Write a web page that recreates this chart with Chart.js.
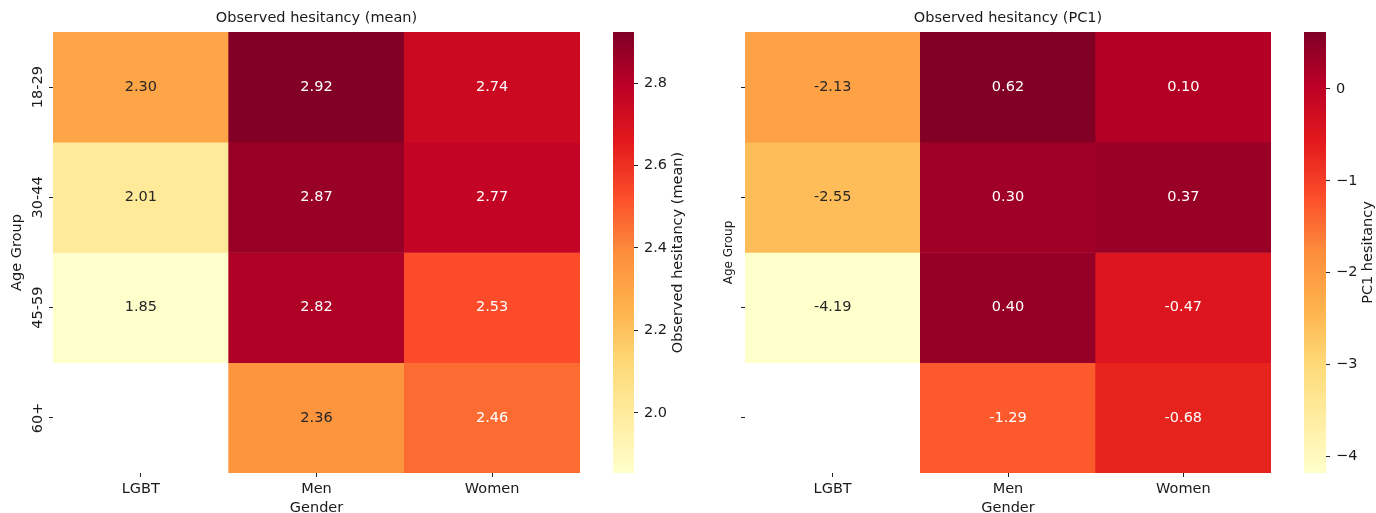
<!DOCTYPE html>
<html>
<head>
<meta charset="utf-8">
<script src="https://cdn.jsdelivr.net/npm/chart.js@4.4.1/dist/chart.umd.min.js"></script>
<style>
  html, body { margin: 0; padding: 0; background: #fff; overflow: hidden; width: 1376px; height: 513px; }
  canvas { position: absolute; top: 0; }
</style>
</head>
<body>
<canvas id="heatMean" width="600" height="520" style="left:0px"></canvas>
<canvas id="barMean" width="110" height="520" style="left:590px"></canvas>
<canvas id="heatPc1" width="600" height="520" style="left:700px"></canvas>
<canvas id="barPc1" width="86" height="520" style="left:1290px"></canvas>
<script>
// Categories
const genders = ['LGBT', 'Men', 'Women'];
const ageGroups = ['18-29', '30-44', '45-59', '60+'];

// Observed hesitancy (mean), one array per gender, ordered by age group
const meanLGBT = [2.30, 2.01, 1.85, null];
const meanMen = [2.92, 2.87, 2.82, 2.36];
const meanWomen = [2.74, 2.77, 2.53, 2.46];

// Observed hesitancy (PC1), one array per gender, ordered by age group
const pc1LGBT = [-2.13, -2.55, -4.19, null];
const pc1Men = [0.62, 0.30, 0.40, -1.29];
const pc1Women = [0.10, 0.37, -0.47, -0.68];

// Colour scale limits (unrounded data extremes) and colour bar ticks
const meanRange = [1.854, 2.924];
const pc1Range = [-4.185, 0.621];
const meanTicks = [2.0, 2.2, 2.4, 2.6, 2.8];
const pc1Ticks = [-4, -3, -2, -1, 0];

Chart.defaults.font.family = '"DejaVu Sans", sans-serif';
Chart.defaults.color = '#1a1a1a';

// YlOrRd sequential palette
const YLORRD = ['#ffffcc', '#ffeda0', '#fed976', '#feb24c', '#fd8d3c', '#fc4e2a', '#e31a1c', '#bd0026', '#800026'];
const stops = YLORRD.map(h => [1, 3, 5].map(i => parseInt(h.slice(i, i + 2), 16)));
function cmap(t) {
  t = Math.max(0, Math.min(1, t));
  const p = t * (stops.length - 1);
  const i = Math.min(Math.floor(p), stops.length - 2);
  const f = p - i;
  return stops[i].map((v, k) => Math.round(v + (stops[i + 1][k] - v) * f));
}
const rgbStr = c => `rgb(${c[0]},${c[1]},${c[2]})`;
function luminance(c) {
  const l = c.map(v => { v /= 255; return v <= 0.03928 ? v / 12.92 : Math.pow((v + 0.055) / 1.055, 2.4); });
  return 0.2126 * l[0] + 0.7152 * l[1] + 0.0722 * l[2];
}

const FS = 14.5;
const TICK_COLOR = '#222';

// Writes each cell's value in its centre
const cellLabels = {
  id: 'cellLabels',
  afterDatasetsDraw(chart) {
    const ctx = chart.ctx;
    ctx.save();
    ctx.font = FS + 'px "DejaVu Sans"';
    ctx.textAlign = 'center';
    ctx.textBaseline = 'middle';
    chart.data.datasets.forEach((ds, di) => {
      chart.getDatasetMeta(di).data.forEach((el, i) => {
        const v = ds.values[i];
        if (v == null) return;
        ctx.fillStyle = ds.textColors[i];
        ctx.fillText(v.toFixed(2), el.x, (el.y + el.base) / 2);
      });
    });
    ctx.restore();
  }
};

// Rotated label to the right of a colour bar
const cbarTitle = {
  id: 'cbarTitle',
  afterDraw(chart, args, opts) {
    const ctx = chart.ctx;
    const a = chart.chartArea;
    ctx.save();
    ctx.translate(opts.x, (a.top + a.bottom) / 2);
    ctx.rotate(-Math.PI / 2);
    ctx.font = FS + 'px "DejaVu Sans"';
    ctx.fillStyle = '#1a1a1a';
    ctx.textAlign = 'center';
    ctx.textBaseline = 'middle';
    ctx.fillText(opts.text, 0, 0);
    ctx.restore();
  }
};

function heatmap(id, cols, range, title, cfg) {
  const [vmin, vmax] = range;
  const datasets = ageGroups.map((age, r) => {
    const vals = cols.map(c => c[r]);
    const colors = vals.map(v => v == null ? null : cmap((v - vmin) / (vmax - vmin)));
    return {
      label: age,
      data: vals.map(v => v == null ? null : [r, r + 1]),
      values: vals,
      backgroundColor: colors.map(c => c ? rgbStr(c) : 'rgba(0,0,0,0)'),
      textColors: colors.map(c => c && luminance(c) > 0.408 ? '#262626' : '#ffffff'),
      borderWidth: 0,
      grouped: false,
      barPercentage: 1,
      categoryPercentage: 1
    };
  });
  return new Chart(document.getElementById(id), {
    type: 'bar',
    data: { labels: genders, datasets },
    options: {
      responsive: false,
      animation: false,
      devicePixelRatio: 1,
      layout: { padding: { left: 0, right: cfg.padRight, top: 0, bottom: 0 } },
      plugins: {
        legend: { display: false },
        tooltip: { enabled: false },
        title: {
          display: true, text: title, fullSize: false, color: '#1a1a1a',
          font: { size: FS, weight: 'normal' }, padding: { top: 10, bottom: 4.6 }
        }
      },
      scales: {
        x: {
          type: 'category',
          grid: { display: true, offset: false, drawOnChartArea: false, tickLength: 4, color: TICK_COLOR },
          border: { display: false },
          ticks: { font: { size: FS }, color: '#1a1a1a', padding: 3.3 },
          title: { display: true, text: 'Gender', font: { size: FS }, color: '#1a1a1a', padding: { top: 0, bottom: 3.3 } },
          afterFit(a) { a.height = 47; }
        },
        y: {
          type: 'linear', min: 0, max: 4, reverse: true,
          afterBuildTicks(a) { a.ticks = [0.5, 1.5, 2.5, 3.5].map(v => ({ value: v })); },
          grid: { display: true, drawOnChartArea: false, tickLength: 4, color: TICK_COLOR },
          border: { display: false },
          ticks: {
            callback: (v, i) => cfg.showYLabels ? ageGroups[i] : '',
            minRotation: 90, maxRotation: 90, crossAlign: 'center',
            font: { size: FS }, color: '#1a1a1a', padding: cfg.yTickPad
          },
          title: {
            display: true, text: 'Age Group', font: { size: cfg.yTitleSize }, color: '#1a1a1a',
            padding: { top: cfg.yTitlePad, bottom: 0 }
          },
          afterFit(a) { a.width = cfg.yAxisWidth; }
        }
      }
    },
    plugins: [cellLabels]
  });
}

function colorbar(id, range, ticks, fmt, label, cfg) {
  const [vmin, vmax] = range;
  return new Chart(document.getElementById(id), {
    type: 'bar',
    data: {
      labels: [''],
      datasets: [{
        data: [[vmin, vmax]],
        backgroundColor(ctx) {
          const chart = ctx.chart;
          if (!chart.chartArea) return YLORRD[4];
          const y = chart.scales.y;
          const g = chart.ctx.createLinearGradient(0, y.getPixelForValue(vmin), 0, y.getPixelForValue(vmax));
          YLORRD.forEach((c, i) => g.addColorStop(i / (YLORRD.length - 1), c));
          return g;
        },
        borderWidth: 0,
        barPercentage: 1,
        categoryPercentage: 1
      }]
    },
    options: {
      responsive: false,
      animation: false,
      devicePixelRatio: 1,
      layout: { padding: { left: cfg.padLeft, right: 0, top: 32, bottom: 47 } },
      plugins: {
        legend: { display: false },
        tooltip: { enabled: false },
        cbarTitle: { text: label, x: cfg.labelX }
      },
      scales: {
        x: { display: false },
        y: {
          position: 'right', min: vmin, max: vmax,
          afterBuildTicks(a) { a.ticks = ticks.map(v => ({ value: v })); },
          grid: { display: true, drawOnChartArea: false, tickLength: 4, color: TICK_COLOR },
          border: { display: false },
          ticks: { callback: v => fmt(v), font: { size: FS }, color: '#1a1a1a', padding: 6 },
          afterFit(a) { a.width = cfg.axisWidth; }
        }
      }
    },
    plugins: [cbarTitle]
  });
}

heatmap('heatMean', [meanLGBT, meanMen, meanWomen], meanRange, 'Observed hesitancy (mean)',
  { padRight: 20, yAxisWidth: 53, showYLabels: true, yTickPad: -10, yTitleSize: FS, yTitlePad: 8.3 });
colorbar('barMean', meanRange, meanTicks, v => v.toFixed(1), 'Observed hesitancy (mean)',
  { padLeft: 23, axisWidth: 66, labelX: 88 });

heatmap('heatPc1', [pc1LGBT, pc1Men, pc1Women], pc1Range, 'Observed hesitancy (PC1)',
  { padRight: 29, yAxisWidth: 45, showYLabels: false, yTickPad: 3, yTitleSize: 12, yTitlePad: 21.8 });
colorbar('barPc1', pc1Range, pc1Ticks, v => (v < 0 ? '\u2212' + Math.abs(v) : String(v)), 'PC1 hesitancy',
  { padLeft: 14, axisWidth: 50, labelX: 78 });
</script>
</body>
</html>
